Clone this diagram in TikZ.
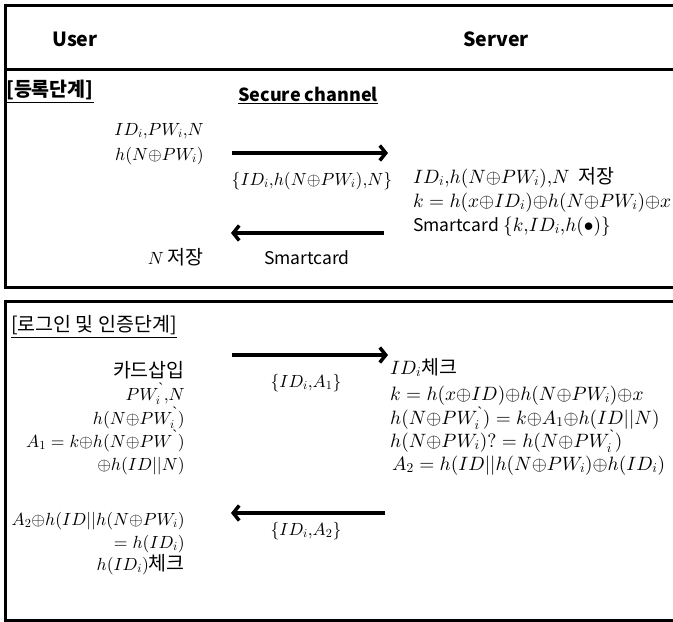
\documentclass[tikz,border=0pt]{standalone}
\usepackage[no-math]{fontspec}
\setmainfont{Noto Sans CJK KR}
\newfontfamily\latinf{Liberation Serif}
\usetikzlibrary{arrows.meta}
% scalable Computer Modern math fonts, so any size can be used
\DeclareFontShape{OML}{cmm}{m}{it}{<->cmmi10}{}
\DeclareFontShape{OMS}{cmsy}{m}{n}{<->cmsy10}{}
\DeclareFontShape{OT1}{cmr}{m}{n}{<->cmr10}{}
\DeclareFontShape{OMX}{cmex}{m}{n}{<->cmex10}{}
% backtick mark used for the re-entered password
\newcommand\bt{^{\mbox{\latinf\fontsize{15}{15}\selectfont\char"60}}}
% tight XOR symbol and tight comma
\newcommand\xo{{\oplus}}
\newcommand\cm{{,}}
\newcommand\ksz{\fontsize{19.5}{23}\selectfont}
\begin{document}
\begin{tikzpicture}[x=1pt,y=-1pt,
  frame/.style={line width=3pt},
  msg/.style={line width=3.5pt,-{Straight Barb[length=6pt,width=15pt]}},
  mth/.style={inner sep=0pt,font=\fontsize{19.3}{23}\selectfont},
  mthl/.style={inner sep=0pt,font=\fontsize{17.6}{21}\selectfont},
  mlab/.style={inner sep=0pt,font=\fontsize{17.6}{21}\selectfont},
  head/.style={inner sep=0pt,font=\fontsize{19.5}{23}\selectfont\bfseries},
  kor/.style={inner sep=0pt,font=\ksz},
  lbl/.style={inner sep=0pt,font=\fontsize{17.5}{21}\selectfont}]
\useasboundingbox (0,0) rectangle (673,622);
\clip (0,0) rectangle (673,622);

% frames
\draw[frame] (690,5) -- (5,5) -- (5,287) -- (690,287);
\draw[frame] (5,69) -- (690,69);
\draw[frame] (690,301) -- (5,301) -- (5,620) -- (690,620);

% header
\node[head,anchor=base] (user) at (75,46) {User};
\node[head,anchor=base] (server) at (496,46) {Server};

% registration phase
\node[kor,anchor=base west,font=\ksz\bfseries] (reg) at (6,96) {\underline{[등록단계]}};
\node[head,anchor=base,font=\fontsize{18}{21}\selectfont\bfseries] (sec) at (308,101) {\underline{Secure channel}};

\node[mthl,anchor=base east] (rl1) at (204,135) {$ID_i\cm PW_i\cm N$};
\node[mthl,anchor=base east] (rl2) at (204,160) {$h(N\xo PW_i)$};
\node[mthl,anchor=base east] (rl3) at (204,264) {$N$ {\ksz 저장}};

\coordinate (r1s) at (232,153);
\coordinate (r1e) at (388,153);
\draw[msg] (r1s) -- (r1e);
\node[mlab,anchor=base] (r1l) at (312,185) {$\{ID_i\cm h(N\xo PW_i)\cm N\}$};

\node[mth,anchor=base west] (rs1) at (413,183) {$ID_i\cm h(N\xo PW_i)\cm N$\ \ {\ksz 저장}};
\node[mth,anchor=base west] (rs2) at (413,207) {$k=h(x\xo ID_i)\xo h(N\xo PW_i)\xo x$};
\node[mth,anchor=base west] (rs3) at (413,231) {{\fontsize{17.5}{21}\selectfont Smartcard} $\{k\cm ID_i\cm h(\bullet)\}$};

\coordinate (r2s) at (384,233);
\coordinate (r2e) at (231,233);
\draw[msg] (r2s) -- (r2e);
\node[lbl,anchor=base] (r2l) at (307,264) {Smartcard};

% login and authentication phase
\node[kor,anchor=base west] (login) at (11,331) {\underline{[로그인 및 인증단계]}};

\node[kor,anchor=base east] (ll1) at (185,377) {카드삽입};
\node[mthl,anchor=base east] (ll2) at (185,400) {$PW_i\bt\cm N$};
\node[mthl,anchor=base east] (ll3) at (185,424) {$h(N\xo PW_i\bt)$};
\node[mthl,anchor=base east] (ll4) at (185,447) {$A_1=k\xo h(N\xo PW\bt)$};
\node[mthl,anchor=base east] (ll5) at (185,470) {$\xo h(ID||N)$};
\node[mthl,anchor=base east] (ll6) at (185,525) {$A_2\xo h(ID||h(N\xo PW_i)$};
\node[mthl,anchor=base east] (ll7) at (185,548) {$=h(ID_i)$};
\node[mthl,anchor=base east] (ll8) at (185,570) {$h(ID_i)${\ksz 체크}};

\coordinate (l1s) at (232,355);
\coordinate (l1e) at (388,355);
\draw[msg] (l1s) -- (l1e);
\node[mlab,anchor=base] (l1l) at (306,387) {$\{ID_i\cm A_1\}$};

\node[mth,anchor=base west] (ls1) at (390,374) {$ID_i${\ksz 체크}};
\node[mth,anchor=base west] (ls2) at (390,400) {$k=h(x\xo ID)\xo h(N\xo PW_i)\xo x$};
\node[mth,anchor=base west] (ls3) at (390,424) {$h(N\xo PW_i\bt)=k\xo A_1\xo h(ID||N)$};
\node[mth,anchor=base west] (ls4) at (390,447) {$h(N\xo PW_i)?=h(N\xo PW_i\bt)$};
\node[mth,anchor=base west] (ls5) at (392,470) {$A_2=h(ID||h(N\xo PW_i)\xo h(ID_i)$};

\coordinate (l2s) at (385,513);
\coordinate (l2e) at (231,513);
\draw[msg] (l2s) -- (l2e);
\node[mlab,anchor=base] (l2l) at (306,535) {$\{ID_i\cm A_2\}$};
\end{tikzpicture}
\end{document}
